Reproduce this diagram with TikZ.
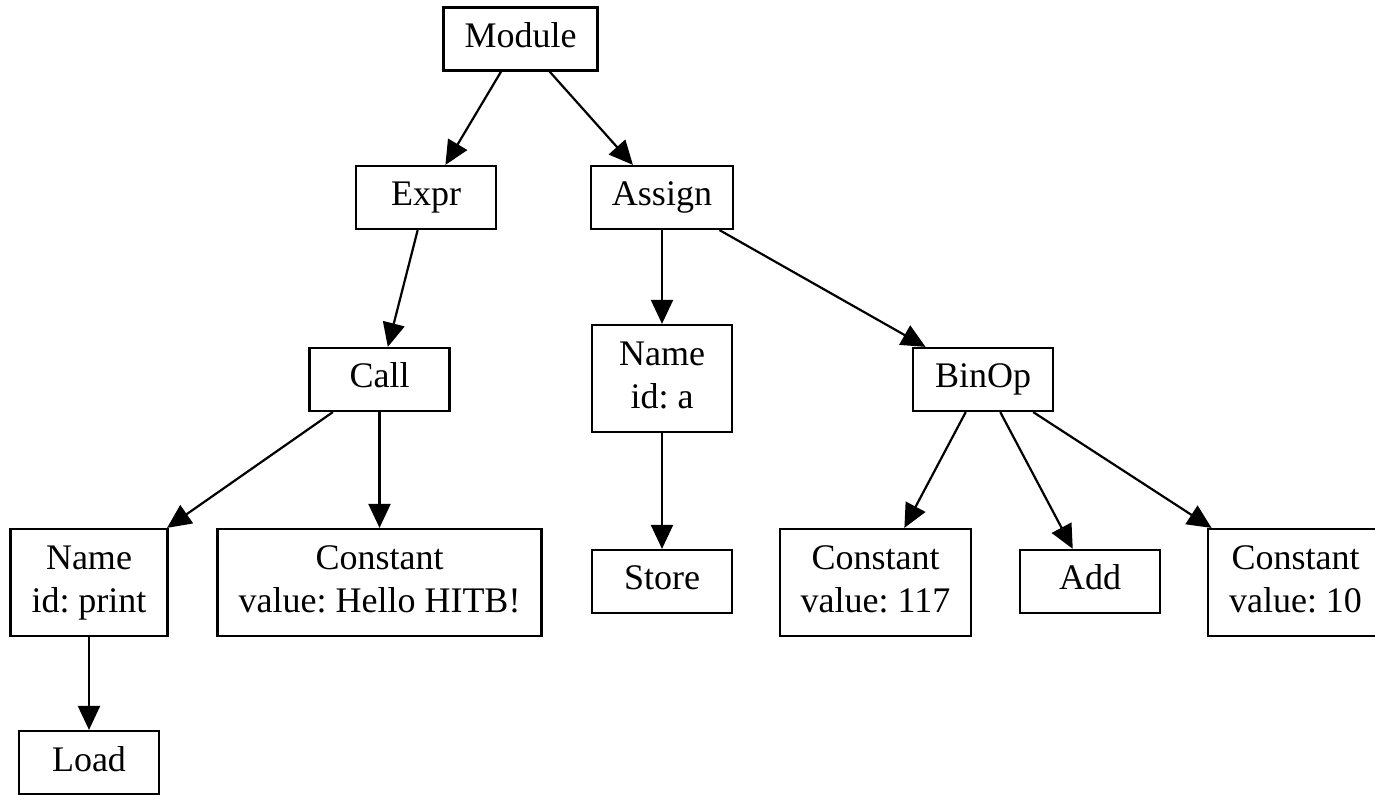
\documentclass[tikz,border=0pt]{standalone}
\usepackage{fontspec}
\setmainfont{Liberation Serif}
\usetikzlibrary{arrows.meta}
\frenchspacing

\begin{document}
\begin{tikzpicture}[x=0.5pt, y=-0.5pt,
		astnode/.style={draw, line width=1.1pt, align=center, minimum width=70pt, minimum height=31.5pt, inner xsep=10.5pt, inner ysep=2pt, font=\fontsize{18}{21.5}\selectfont, text height=15pt, text depth=6.5pt},
		astnode2/.style={astnode, minimum height=53.5pt, text height=36.5pt},
		astedge/.style={line width=1.1pt, -{Triangle[length=12pt,width=11pt]}}]
		%%%%% START %%%%%
		
		\useasboundingbox (0, 0) rectangle (1375, 795);
		
		\node[astnode] (module) at (520.5, 39) {Module};
		\node[astnode] (expr) at (426, 197.5) {Expr};
		\node[astnode] (assign) at (662, 197.5) {Assign};
		
		\node[astnode] (call) at (379.5, 379.5) {Call};
		\node[astnode2] (nameA) at (662, 378.5) {Name\\id: a};
		\node[astnode] (binop) at (983, 379.5) {BinOp};
		
		\node[astnode2] (namePrint) at (89, 582.5) {Name\\id: print};
		\node[astnode2] (constHello) at (379.5, 582.5) {Constant\\value: Hello HITB!};
		\node[astnode] (store) at (662, 581.5) {Store};
		\node[astnode2] (const117) at (875.5, 582.5) {Constant\\value: 117};
		\node[astnode] (add) at (1090, 581.5) {Add};
		\node[astnode2] (const10) at (1295.5, 582.5) {Constant\\value: 10};
		
		\node[astnode] (load) at (89, 762.5) {Load};
		
		\draw[astedge] (module) -- (expr);
		\draw[astedge] (module) -- (assign);
		\draw[astedge] (expr) -- (call);
		\draw[astedge] (assign) -- (nameA);
		\draw[astedge] (assign) -- (binop);
		\draw[astedge] (call) -- (namePrint);
		\draw[astedge] (call) -- (constHello);
		\draw[astedge] (nameA) -- (store);
		\draw[astedge] (binop) -- (const117);
		\draw[astedge] (binop) -- (add);
		\draw[astedge] (binop) -- (const10);
		\draw[astedge] (namePrint) -- (load);
		
		%%%%% END %%%%%
	\end{tikzpicture}
\end{document}
